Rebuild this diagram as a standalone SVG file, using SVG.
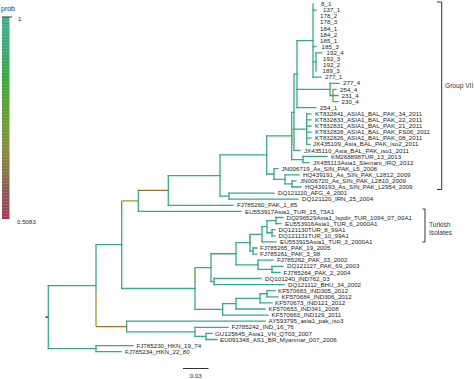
<svg xmlns="http://www.w3.org/2000/svg" width="474" height="379" viewBox="0 0 474 379">
<defs>
<linearGradient id="probGrad" x1="0" y1="0" x2="0" y2="1">
<stop offset="0" stop-color="#3fae92"/>
<stop offset="0.15" stop-color="#3aa874"/>
<stop offset="0.3" stop-color="#36a83a"/>
<stop offset="0.45" stop-color="#58a22e"/>
<stop offset="0.6" stop-color="#7d9436"/>
<stop offset="0.72" stop-color="#8a7c44"/>
<stop offset="0.86" stop-color="#8a5a50"/>
<stop offset="1" stop-color="#a23a58"/>
</linearGradient>
<pattern id="stripes" width="8" height="3" patternUnits="userSpaceOnUse">
<rect x="0" y="0" width="8" height="1" fill="#ffffff" fill-opacity="0.12"/>
</pattern>
</defs>
<style>
.br{fill:none;stroke:#37a98f;stroke-width:1.3;stroke-linecap:square}
.ol{fill:none;stroke:#9a9c30;stroke-width:1.3}
.bn{fill:none;stroke:#9b702c;stroke-width:1.3}
.gr{fill:none;stroke:#4aa83c;stroke-width:1.3}
.lab{font-family:"Liberation Sans",Arial,sans-serif;font-size:6.2px;fill:#1e1e1e}
.ann{font-family:"Liberation Sans",Arial,sans-serif;font-size:6.6px;fill:#333333}
.blk{fill:none;stroke:#333;stroke-width:1}
</style>
<rect width="474" height="379" fill="#ffffff"/>

<g id="legend">
<text class="ann" x="1" y="11" style="font-size:7px">prob</text>
<rect x="2" y="17" width="7.5" height="202" fill="url(#probGrad)"/>
<rect x="2" y="17" width="7.5" height="202" fill="url(#stripes)"/>
<path class="blk" d="M2 17 H12"/>
<text class="lab" x="18" y="21">1</text>
<text class="lab" x="17" y="224">0.5083</text>
</g>

<g id="connectors">
<path class="br" d="M313 4V77.2 M316 52.8V71.1 M330 83.3V95.5 M297 40.6V107.7 M306.7 113.8V144.3 M294 74.15V150.4 M303 156.5V162.6 M291.7 112.3V159.55 M292 180.9V187 M285 174.8V183.95 M274 168.7V179.35 M266.7 135.9V174 M229 193.1V199.2 M220 154.95V196.15 M168.3 175.55V205.3 M138.3 190.4V211.4 M276 217.5V223.6 M272 229.7V235.8 M267 220.55V232.75 M262 226.65V241.9 M253 248V254.1 M250 234.3V251.05 M272 266.3V272.4 M258 260.2V269.35 M236 242.7V264.8 M214 278.5V284.6 M211 253.75V281.55 M267 290.7V296.8 M260 293.75V302.9 M236 298.3V309 M222.7 303.65V315.1 M195 282V309.4 M121.7 215V288.5 M206 333.4V339.5 M195 327.3V336.45 M126.7 321.2V331.9 M96 244.7V292 M96 345.6V351.7 M48.3 285.6V348.65"/>
<path class="ol" d="M333 89.4V101.6 M291.7 128V146 M250 236V246 M96 292V326.55 M121.7 200.9H138.3"/>
<path class="gr" d="M195 267.65V282 M121.7 200.9V215"/>
<path class="bn" d="M138.3 190.4H168.3 M96 326.55H126.7"/>
<path class="br" d="M297 40.6H313 M313 61.95H316 M297 89.4H330 M330 95.5H333 M294 74.15H297 M294 129.05H306.7 M291.7 112.3H294 M291.7 159.55H303 M266.7 135.9H291.7 M266.7 174H274 M274 179.35H285 M285 183.95H292 M220 154.95H266.7 M220 196.15H229 M168.3 175.55H220 M250 234.3H262 M262 226.65H267 M267 220.55H276 M267 232.75H272 M250 251.05H253 M236 242.7H250 M236 264.8H258 M258 269.35H272 M211 253.75H236 M211 281.55H214 M195 267.65H211 M260 293.75H267 M236 298.3H260 M222.7 303.65H236 M195 309.4H222.7 M121.7 288.5H195 M96 244.7H121.7 M126.7 331.9H195 M195 336.45H206 M48.3 285.6H96 M48.3 348.65H96"/>
<path class="br" d="M313 10.1H316 M313 46.7H316 M316 52.8H322 M313 77.2H321 M330 83.3H339 M333 89.4H336 M333 95.5H338 M333 101.6H338 M297 107.7H316 M306.7 113.8H311 M306.7 119.9H311 M306.7 126H311 M306.7 132.1H311 M306.7 138.2H311 M306.7 144.3H310 M294 150.4H300 M303 156.5H327 M303 162.6H309 M274 168.7H278 M285 174.8H299 M292 180.9H296 M292 187H301 M229 193.1H274 M229 199.2H298 M168.3 205.3H233 M138.3 211.4H241 M276 217.5H283 M276 223.6H281 M272 229.7H275 M272 235.8H275 M262 241.9H276 M253 248H257 M253 254.1H257 M258 260.2H273 M272 266.3H283 M272 272.4H280 M214 278.5H261 M214 284.6H284 M267 290.7H275 M267 296.8H278 M260 302.9H272 M236 309H265 M222.7 315.1H268 M126.7 321.2H265 M195 327.3H228 M206 333.4H212 M206 339.5H217 M96 345.6H133 M96 351.7H121"/>
<path d="M45.3 317.1H48.3" stroke="#333" stroke-width="1.3"/>
</g>

<g id="tips" class="lab">
<g id="t1"><text class="lab" x="321" y="6.1">8_1</text></g>
<g id="t2"><text class="lab" x="323" y="12.2">137_1</text></g>
<g id="t3"><text class="lab" x="320" y="18.3">178_2</text></g>
<g id="t4"><text class="lab" x="320" y="24.4">178_3</text></g>
<g id="t5"><text class="lab" x="320" y="30.5">184_1</text></g>
<g id="t6"><text class="lab" x="320" y="36.6">184_2</text></g>
<g id="t7"><text class="lab" x="320" y="42.7">185_1</text></g>
<g id="t8"><text class="lab" x="321.5" y="48.8">185_3</text></g>
<g id="t9"><text class="lab" x="326.5" y="54.9">192_4</text></g>
<g id="t10"><text class="lab" x="323" y="61">192_3</text></g>
<g id="t11"><text class="lab" x="323" y="67.1">192_2</text></g>
<g id="t12"><text class="lab" x="322.5" y="73.2">189_3</text></g>
<g id="t13"><text class="lab" x="325" y="79.3">277_1</text></g>
<g id="t14"><text class="lab" x="343" y="85.4">277_4</text></g>
<g id="t15"><text class="lab" x="340" y="91.5">254_4</text></g>
<g id="t16"><text class="lab" x="341.5" y="97.6">231_4</text></g>
<g id="t17"><text class="lab" x="341.5" y="103.7">230_4</text></g>
<g id="t18"><text class="lab" x="320" y="109.8">254_1</text></g>
<g id="t19"><text class="lab" x="315" y="115.9">KT832841_ASIA1_BAL_PAK_34_2011</text></g>
<g id="t20"><text class="lab" x="315" y="122">KT832833_ASIA1_BAL_PAK_22_2011</text></g>
<g id="t21"><text class="lab" x="315" y="128.1">KT832831_ASIA1_BAL_PAK_21_2011</text></g>
<g id="t22"><text class="lab" x="315" y="134.2">KT832828_ASIA1_BAL_PAK_FS06_2011</text></g>
<g id="t23"><text class="lab" x="315" y="140.3">KT832826_ASIA1_BAL_PAK_08_2011</text></g>
<g id="t24"><text class="lab" x="313" y="146.4">JX435109_Asia_BAL_PAK_iso2_2011</text></g>
<g id="t25"><text class="lab" x="304" y="152.5">JX435110_Asia_BAL_PAK_iso1_2011</text></g>
<g id="t26"><text class="lab" x="331" y="158.6">KM268898TUR_13_2013</text></g>
<g id="t27"><text class="lab" x="313" y="164.7">JX455113Asia1_Slemani_IRQ_2012</text></g>
<g id="t28"><text class="lab" x="281.5" y="170.8">JN006719_As_SIN_PAK_L5_2008</text></g>
<g id="t29"><text class="lab" x="303" y="176.9">HQ439191_As_SIN_PAK_L2812_2009</text></g>
<g id="t30"><text class="lab" x="300" y="183">JN006720_As_SIN_PAK_L2810_2009</text></g>
<g id="t31"><text class="lab" x="305" y="189.1">HQ439193_As_SIN_PAK_L2954_2009</text></g>
<g id="t32"><text class="lab" x="278" y="195.2">DQ121110_AFG_4_2001</text></g>
<g id="t33"><text class="lab" x="302" y="201.3">DQ121120_IRN_25_2004</text></g>
<g id="t34"><text class="lab" x="237" y="207.4">FJ785260_PAK_1_85</text></g>
<g id="t35"><text class="lab" x="245" y="213.5">EU553917Asia1_TUR_15_73A1</text></g>
<g id="t36"><text class="lab" x="286.5" y="219.6">DQ296529Asia1_Ispdir_TUR_1094_07_00A1</text></g>
<g id="t37"><text class="lab" x="285" y="225.7">EU553916Asia1_TUR_6_2000A1</text></g>
<g id="t38"><text class="lab" x="278.5" y="231.8">DQ121130TUR_8_99A1</text></g>
<g id="t39"><text class="lab" x="278.5" y="237.9">DQ121131TUR_10_99A1</text></g>
<g id="t40"><text class="lab" x="280" y="244">EU553915Asia1_TUR_3_2000A1</text></g>
<g id="t41"><text class="lab" x="260" y="250.1">FJ785265_PAK_19_2005</text></g>
<g id="t42"><text class="lab" x="260" y="256.2">FJ785261_PAK_3_98</text></g>
<g id="t43"><text class="lab" x="277" y="262.3">FJ785262_PAK_33_2002</text></g>
<g id="t44"><text class="lab" x="287" y="268.4">DQ121127_PAK_69_2003</text></g>
<g id="t45"><text class="lab" x="283.5" y="274.5">FJ785264_PAK_2_2004</text></g>
<g id="t46"><text class="lab" x="265" y="280.6">DQ101240_IND762_03</text></g>
<g id="t47"><text class="lab" x="288" y="286.7">DQ121112_BHU_34_2002</text></g>
<g id="t48"><text class="lab" x="278" y="292.8">KF570683_IND305_2012</text></g>
<g id="t49"><text class="lab" x="281.5" y="298.9">KF570684_IND306_2012</text></g>
<g id="t50"><text class="lab" x="275" y="305">KF570673_IND121_2012</text></g>
<g id="t51"><text class="lab" x="268.5" y="311.1">KF570653_IND341_2008</text></g>
<g id="t52"><text class="lab" x="271.5" y="317.2">KF570663_IND129_2011</text></g>
<g id="t53"><text class="lab" x="268.5" y="323.3">AY593795_asia1_pak_iso3</text></g>
<g id="t54"><text class="lab" x="231.5" y="329.4">FJ785242_IND_16_76</text></g>
<g id="t55"><text class="lab" x="215" y="335.5">GU125645_Asia1_VN_QT03_2007</text></g>
<g id="t56"><text class="lab" x="220" y="341.6">EU091348_AS1_BR_Myanmar_007_2006</text></g>
<g id="t57"><text class="lab" x="136.5" y="347.7">FJ785230_HKN_19_74</text></g>
<g id="t58"><text class="lab" x="125" y="353.8">FJ785234_HKN_22_80</text></g>
</g>

<g id="group-vii">
<path class="blk" d="M437 2H441.7V189.5H437"/>
<text class="ann" x="445" y="88">Group VII</text>
</g>
<g id="turkish">
<path class="blk" d="M422.5 209H425V242H422.5"/>
<text class="ann" x="429" y="227">Turkish</text>
<text class="ann" x="429" y="235">Isolates</text>
</g>
<g id="scale">
<path class="blk" d="M183 368.5H208.5"/>
<text class="lab" x="195.7" y="378" text-anchor="middle">0.03</text>
</g>
</svg>
